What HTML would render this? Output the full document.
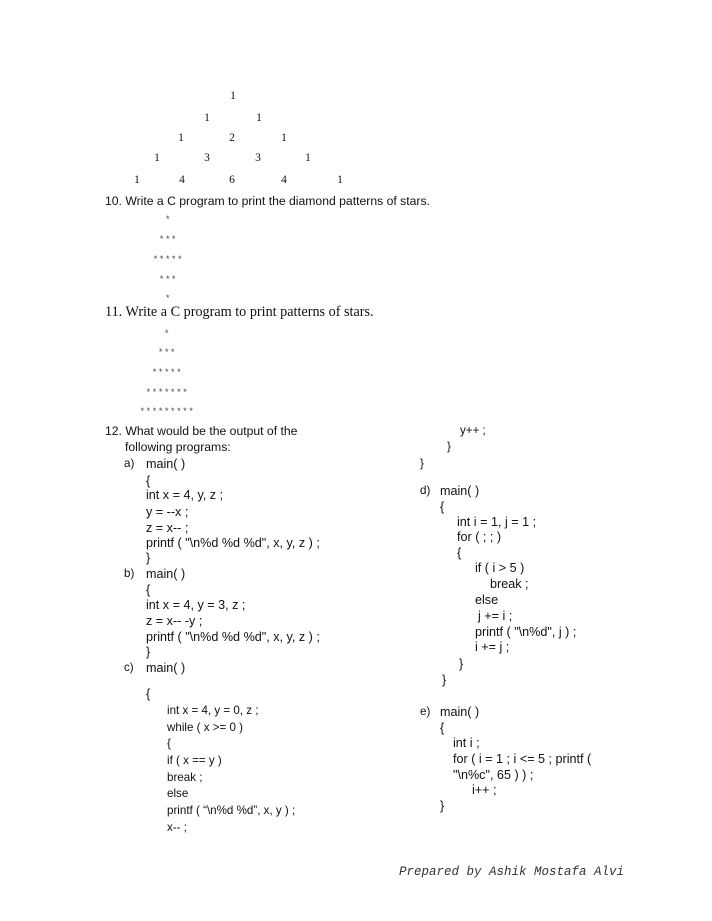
<!DOCTYPE html>
<html><head><meta charset="utf-8"><style>
body{margin:0;width:712px;height:921px;background:#fff;position:relative;overflow:hidden;color:#111}
div{position:absolute;white-space:pre;line-height:14px;height:14px}
.s{font-family:"Liberation Serif",serif;font-size:11.5px}
.c{font-family:"Liberation Sans",sans-serif;font-size:11.6px}
.a{font-family:"Liberation Sans",sans-serif;font-size:12.6px}
.st{font-family:"Liberation Sans",sans-serif;font-size:9px;letter-spacing:2.6px;color:#444;transform:translateX(-50%)}
.n{transform:translateX(-50%)}
</style></head><body>
<div class="s n" style="left:233px;top:89px">1</div>
<div class="s n" style="left:207px;top:111px">1</div><div class="s n" style="left:259px;top:111px">1</div>
<div class="s n" style="left:181px;top:131px">1</div><div class="s n" style="left:232px;top:131px">2</div><div class="s n" style="left:284px;top:131px">1</div>
<div class="s n" style="left:157px;top:151px">1</div><div class="s n" style="left:207px;top:151px">3</div><div class="s n" style="left:258px;top:151px">3</div><div class="s n" style="left:308px;top:151px">1</div>
<div class="s n" style="left:137px;top:173px">1</div><div class="s n" style="left:182px;top:173px">4</div><div class="s n" style="left:232px;top:173px">6</div><div class="s n" style="left:284px;top:173px">4</div><div class="s n" style="left:340px;top:173px">1</div>
<div class="c" style="left:105px;top:194px;font-size:12.2px">10. Write a C program to print the diamond patterns of stars.</div>
<div class="st" style="left:169px;top:212px">*</div>
<div class="st" style="left:169px;top:232px">***</div>
<div class="st" style="left:169px;top:252px">*****</div>
<div class="st" style="left:169px;top:272px">***</div>
<div class="st" style="left:169px;top:291px">*</div>
<div class="s" style="left:105px;top:305px;font-size:14.2px">11. Write a C program to print patterns of stars.</div>
<div class="st" style="left:168px;top:326px">*</div>
<div class="st" style="left:168px;top:345px">***</div>
<div class="st" style="left:168px;top:365px">*****</div>
<div class="st" style="left:168px;top:385px">*******</div>
<div class="st" style="left:168px;top:404px">*********</div>

<div class="c" style="left:105px;top:424px;font-size:12.2px">12. What would be the output of the</div>
<div class="c" style="left:125px;top:440px;font-size:12.2px">following programs:</div>
<div class="c" style="left:124px;top:457px">a)</div><div class="a" style="left:146px;top:457px">main( )</div>
<div class="a" style="left:146px;top:474px">{</div>
<div class="a" style="left:146px;top:488px">int x = 4, y, z ;</div>
<div class="a" style="left:146px;top:505px">y = --x ;</div>
<div class="a" style="left:146px;top:521px">z = x-- ;</div>
<div class="a" style="left:146px;top:536px">printf ( "\n%d %d %d", x, y, z ) ;</div>
<div class="a" style="left:146px;top:551px">}</div>
<div class="c" style="left:124px;top:567px">b)</div><div class="a" style="left:146px;top:567px">main( )</div>
<div class="a" style="left:146px;top:583px">{</div>
<div class="a" style="left:146px;top:598px">int x = 4, y = 3, z ;</div>
<div class="a" style="left:146px;top:614px">z = x-- -y ;</div>
<div class="a" style="left:146px;top:630px">printf ( "\n%d %d %d", x, y, z ) ;</div>
<div class="a" style="left:146px;top:645px">}</div>
<div class="c" style="left:124px;top:661px">c)</div><div class="a" style="left:146px;top:661px">main( )</div>
<div class="a" style="left:146px;top:687px">{</div>
<div class="c" style="left:167px;top:704px">int x = 4, y = 0, z ;</div>
<div class="c" style="left:167px;top:721px">while ( x &gt;= 0 )</div>
<div class="c" style="left:167px;top:737px">{</div>
<div class="c" style="left:167px;top:754px">if ( x == y )</div>
<div class="c" style="left:167px;top:771px">break ;</div>
<div class="c" style="left:167px;top:787px">else</div>
<div class="c" style="left:167px;top:804px">printf ( “\n%d %d”, x, y ) ;</div>
<div class="c" style="left:167px;top:821px">x-- ;</div>

<div class="c" style="left:460px;top:424px">y++ ;</div>
<div class="c" style="left:447px;top:440px">}</div>
<div class="c" style="left:420px;top:457px">}</div>
<div class="c" style="left:420px;top:484px">d)</div><div class="a" style="left:440px;top:484px">main( )</div>
<div class="a" style="left:440px;top:500px">{</div>
<div class="a" style="left:457px;top:515px">int i = 1, j = 1 ;</div>
<div class="a" style="left:457px;top:530px">for ( ; ; )</div>
<div class="a" style="left:457px;top:546px">{</div>
<div class="a" style="left:475px;top:561px">if ( i &gt; 5 )</div>
<div class="a" style="left:490px;top:577px">break ;</div>
<div class="a" style="left:475px;top:593px">else</div>
<div class="a" style="left:478px;top:609px">j += i ;</div>
<div class="a" style="left:475px;top:625px">printf ( "\n%d", j ) ;</div>
<div class="a" style="left:475px;top:640px">i += j ;</div>
<div class="a" style="left:459px;top:657px">}</div>
<div class="a" style="left:442px;top:673px">}</div>
<div class="c" style="left:420px;top:705px">e)</div><div class="a" style="left:440px;top:705px">main( )</div>
<div class="a" style="left:440px;top:721px">{</div>
<div class="a" style="left:453px;top:736px">int i ;</div>
<div class="a" style="left:453px;top:752px">for ( i = 1 ; i &lt;= 5 ; printf (</div>
<div class="a" style="left:453px;top:768px">"\n%c", 65 ) ) ;</div>
<div class="a" style="left:472px;top:783px">i++ ;</div>
<div class="a" style="left:440px;top:799px">}</div>

<div style="left:399px;top:865px;font-family:'Liberation Mono',monospace;font-size:12.5px;font-style:italic;color:#333">Prepared by Ashik Mostafa Alvi</div>
</body></html>
